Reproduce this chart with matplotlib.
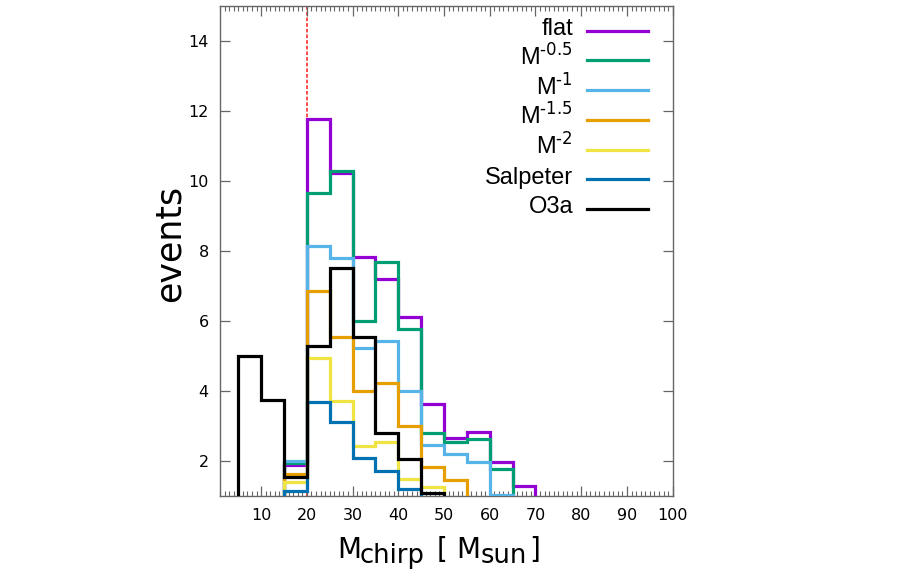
import numpy as np
import matplotlib
matplotlib.use('Agg')
import matplotlib.pyplot as plt
from matplotlib.ticker import MultipleLocator

plt.rcParams['mathtext.default'] = 'regular'

# bin edges of the chirp mass histogram (5 Msun bins)
edges = np.arange(0, 105, 5)

# events per bin, bins 0-5, 5-10, ..., 95-100
flat = [0, 0, 0, 1.87, 11.76, 10.21, 7.81, 7.20, 6.10, 3.62, 2.64, 2.83, 1.95, 1.29, 0, 0, 0, 0, 0, 0]
m05 = [0, 0, 0, 1.94, 9.64, 10.29, 6.00, 7.69, 5.76, 2.80, 2.53, 2.62, 1.76, 0, 0, 0, 0, 0, 0, 0]
m1 = [0, 0, 0, 2.00, 8.14, 7.78, 5.21, 5.43, 3.99, 2.45, 2.19, 1.95, 1.03, 0, 0, 0, 0, 0, 0, 0]
m15 = [0, 0, 0, 1.62, 6.85, 5.53, 3.99, 4.21, 2.99, 1.81, 1.46, 0, 0, 0, 0, 0, 0, 0, 0, 0]
m2 = [0, 0, 0, 1.40, 4.93, 3.71, 2.42, 2.53, 1.49, 1.25, 0, 0, 0, 0, 0, 0, 0, 0, 0, 0]
salpeter = [0, 0, 0, 1.13, 3.69, 3.11, 2.09, 1.71, 1.20, 0, 0, 0, 0, 0, 0, 0, 0, 0, 0, 0]
o3a = [0, 5.00, 3.73, 1.54, 5.27, 7.50, 5.53, 2.80, 2.05, 1.08, 0, 0, 0, 0, 0, 0, 0, 0, 0, 0]

series = [flat, m05, m1, m15, m2, salpeter, o3a]
labels = ['flat', 'M$^{\\text{-0.5}}$', 'M$^{\\text{-1}}$', 'M$^{\\text{-1.5}}$',
          'M$^{\\text{-2}}$', 'Salpeter', 'O3a']
colors = ['#9400D3', '#009E73', '#56B4E9', '#E69F00', '#F0E442', '#0072B2', '#000000']

W, H = 900, 585
fig = plt.figure(figsize=(W / 100, H / 100), dpi=100)
ax = fig.add_axes([0.2444, 0.1526, 0.503, 0.8377])

ax.axvline(20, color='#ff1a1a', lw=1.1, ls=(0, (2.4, 1.3)), zorder=1)

for i, (vals, c) in enumerate(zip(series, colors)):
    ax.stairs(vals, edges, baseline=0, color=c, lw=2.3, zorder=2 + i)

ax.set_xlim(1, 100)
ax.set_ylim(1, 15)
ax.set_xticks(range(10, 101, 10))
ax.set_yticks(range(2, 15, 2))
ax.xaxis.set_minor_locator(MultipleLocator(1))

for s in ax.spines.values():
    s.set_color('#666666')
    s.set_linewidth(1)
ax.tick_params(which='both', direction='in', top=True, right=True, color='#666666')
ax.tick_params(which='major', length=7.5, width=0.9, labelsize=11.5, labelcolor='black')
ax.tick_params(which='minor', length=3.6, width=0.8)
ax.tick_params(axis='x', pad=9)
ax.tick_params(axis='y', pad=8)

ax.set_ylabel('events', fontsize=25)
ax.yaxis.set_label_coords(-0.074, 0.515)

# x label in gnuplot style: large subscripts, pieces placed left to right
xlab = [('M', 337, 20, 0), ('chirp', 360, 18.5, 5), ('[', 437, 20, 0),
        ('M', 456, 20, 0), ('sun', 481, 18.5, 5), (']', 529, 20, 0)]
for txt, xp, fs, drop in xlab:
    fig.text(xp / W, 1 - (558 + drop) / H, txt, fontsize=fs, family='DejaVu Sans',
             ha='left', va='baseline')

# key, drawn like the gnuplot one: label on the left, sample line on the right
y0 = 0.949
dy = 0.0607
for k, (lab, c) in enumerate(zip(labels, colors)):
    yy = y0 - k * dy
    ax.plot([0.811, 0.945], [yy, yy], color=c, lw=2.3, transform=ax.transAxes, clip_on=False)
    ax.text(0.780, yy - 0.0085, lab, ha='right', va='baseline', transform=ax.transAxes,
            fontsize=17, family='Liberation Sans')

fig.savefig('out.png', dpi=100)
